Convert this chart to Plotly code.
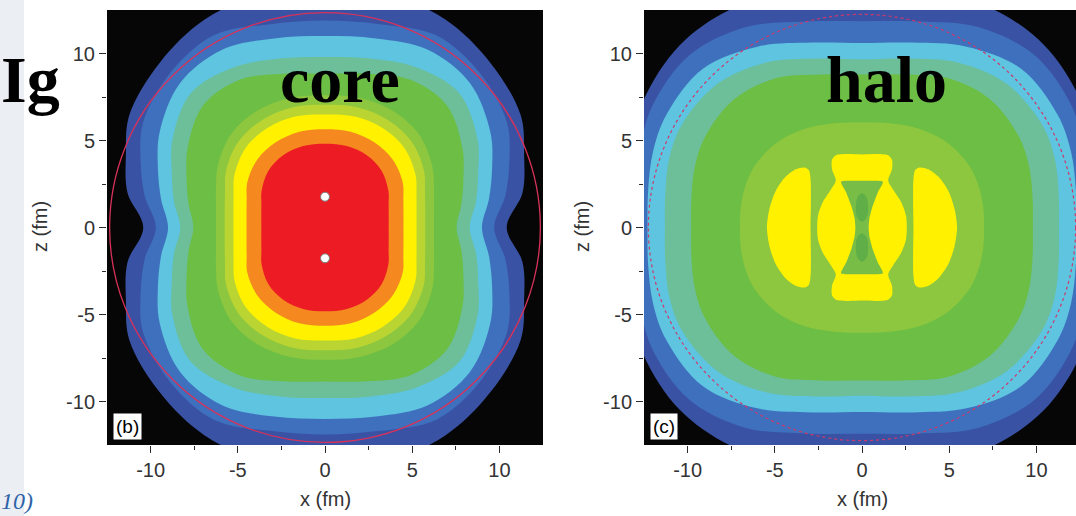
import math
import plotly.graph_objects as go

# ---------------- data ----------------
# angles (deg, first quadrant) at which every contour boundary radius was read
ANGLES = [0, 10, 20, 30, 45, 60, 75, 90]

# panel (b) "core": outer boundary radius (fm) of each filled level, outermost first
CORE_DARKBLUE = [10.42, 11.5, 12.15, 12.95, 13.4, 13.8, 13.9, 13.9]
CORE_BLUE     = [9.7, 10.5, 11.25, 12.05, 12.55, 12.75, 12.1, 11.9]
CORE_CYAN     = [9.0, 9.55, 10.2, 10.95, 11.75, 11.8, 11.25, 11.0]
CORE_TEAL     = [8.3, 8.8, 9.35, 10.1, 10.9, 10.6, 10.05, 9.8]
CORE_GREEN    = [7.55, 7.95, 8.45, 9.1, 9.9, 9.8, 9.15, 8.85]
CORE_LTGREEN  = [6.25, 6.35, 6.65, 7.1, 7.6, 7.75, 7.7, 7.6]
CORE_YLGREEN  = [5.75, 5.84, 6.1, 6.55, 7.0, 7.15, 7.15, 7.05]
CORE_YELLOW   = [5.25, 5.33, 5.58, 6.0, 6.45, 6.6, 6.6, 6.5]
CORE_ORANGE   = [4.5, 4.57, 4.78, 5.15, 5.5, 5.65, 5.7, 5.65]
CORE_RED      = [3.65, 3.71, 3.88, 4.2, 4.6, 4.8, 4.85, 4.82]
CORE_DOT_X = [0.0, 0.0]
CORE_DOT_Z = [1.77, -1.77]
CORE_CIRCLE_R = 12.35

# panel (c) "halo"
HALO_DARKBLUE = [13.3, 13.5, 14.0, 14.5, 14.8, 14.6, 14.0, 13.6]
HALO_BLUE     = [12.9, 13.1, 13.5, 13.9, 14.0, 13.3, 12.25, 11.85]
HALO_CYAN     = [12.3, 12.45, 12.75, 12.95, 12.9, 12.0, 11.0, 10.6]
HALO_TEAL     = [11.3, 11.45, 11.75, 11.9, 11.7, 10.95, 10.05, 9.67]
HALO_GREEN    = [9.8, 9.93, 10.2, 10.4, 10.4, 9.9, 9.1, 8.8]
HALO_LTGREEN  = [7.0, 7.05, 7.1, 7.1, 6.9, 6.55, 6.2, 6.05]
# right crescent, upper half: inner edge up, over the top, down the outer edge
HALO_CRESCENT_X = [2.95, 2.93, 2.95, 3.05, 3.3, 3.8, 4.4, 4.95, 5.3, 5.45]
HALO_CRESCENT_Z = [0.0, 1.5, 2.8, 3.3, 3.45, 3.35, 2.9, 2.1, 1.1, 0.0]
# central yellow blob, first quadrant from top to equator
HALO_BLOB_X = [0.0, 0.9, 1.5, 1.72, 1.72, 1.5, 1.8, 2.25, 2.52, 2.57]
HALO_BLOB_Z = [4.2, 4.22, 4.15, 3.9, 3.35, 2.7, 2.15, 1.45, 0.7, 0.0]
# hourglass inside the blob, first quadrant from top to equator
HALO_NECK_X = [0.0, 1.2, 0.9, 0.6, 0.42, 0.38]
HALO_NECK_Z = [2.68, 2.63, 2.0, 1.2, 0.5, 0.0]
# upper dark spot, right half from top to bottom
HALO_SPOT_X = [0.0, 0.25, 0.35, 0.28, 0.0]
HALO_SPOT_Z = [1.97, 1.75, 1.2, 0.6, 0.33]
HALO_CIRCLE_R = 12.25

TICKS = [-10, -5, 0, 5, 10]
TICK_TEXT = ["-10", "-5", "0", "5", "10"]
MINOR_TICKS = [-7.5, -2.5, 2.5, 7.5]

# ---------------- styles ----------------
C_DARKBLUE = "#3a52a4"
C_BLUE = "#3f70bd"
C_CYAN = "#5ec4e0"
C_TEAL = "#6cbf98"
C_GREEN = "#6dbe45"
C_LTGREEN = "#8dc63f"
C_YLGREEN = "#bad532"
C_YELLOW = "#fff100"
C_ORANGE = "#f5891f"
C_RED = "#ed1c24"
C_NECK = "#78bd45"
C_SPOT = "#5fae47"

W, H = 1076, 516


def quad_to_closed(xq, zq):
    """first-quadrant curve (top -> equator) mirrored into a closed outline"""
    q1 = list(zip(xq, zq))
    q4 = [(x, -z) for x, z in reversed(q1[:-1])]
    q3 = [(-x, -z) for x, z in q1[1:]]
    q2 = [(-x, z) for x, z in reversed(q1[1:-1])]
    pts = q1 + q4 + q3 + q2 + [q1[0]]
    return [p[0] for p in pts], [p[1] for p in pts]


def radial_quadrant(radii):
    xs = [r * math.cos(math.radians(a)) for a, r in zip(ANGLES, radii)]
    zs = [r * math.sin(math.radians(a)) for a, r in zip(ANGLES, radii)]
    xs[-1] = 0.0
    zs[0] = 0.0
    return xs[::-1], zs[::-1]


fig = go.Figure()


def add_fill(xs, zs, color, ax, smoothing=1.0):
    fig.add_trace(go.Scatter(
        x=xs, y=zs, mode="lines", fill="toself", fillcolor=color,
        line=dict(width=0, shape="spline", smoothing=smoothing, color=color),
        hoverinfo="skip", showlegend=False,
        xaxis="x" if ax == 1 else "x2", yaxis="y" if ax == 1 else "y2"))


core_levels = [(CORE_DARKBLUE, C_DARKBLUE), (CORE_BLUE, C_BLUE), (CORE_CYAN, C_CYAN),
               (CORE_TEAL, C_TEAL), (CORE_GREEN, C_GREEN), (CORE_LTGREEN, C_LTGREEN),
               (CORE_YLGREEN, C_YLGREEN), (CORE_YELLOW, C_YELLOW), (CORE_ORANGE, C_ORANGE),
               (CORE_RED, C_RED)]
for radii, col in core_levels:
    xq, zq = radial_quadrant(radii)
    xs, zs = quad_to_closed(xq, zq)
    add_fill(xs, zs, col, 1)

fig.add_trace(go.Scatter(x=CORE_DOT_X, y=CORE_DOT_Z, mode="markers",
                         marker=dict(size=9, color="white", line=dict(color="#777", width=1)),
                         hoverinfo="skip", showlegend=False, xaxis="x", yaxis="y"))

halo_levels = [(HALO_DARKBLUE, C_DARKBLUE), (HALO_BLUE, C_BLUE), (HALO_CYAN, C_CYAN),
               (HALO_TEAL, C_TEAL), (HALO_GREEN, C_GREEN), (HALO_LTGREEN, C_LTGREEN)]
for radii, col in halo_levels:
    xq, zq = radial_quadrant(radii)
    xs, zs = quad_to_closed(xq, zq)
    add_fill(xs, zs, col, 2)

# crescents
upper = list(zip(HALO_CRESCENT_X, HALO_CRESCENT_Z))
lower = [(x, -z) for x, z in reversed(upper[1:-1])]
cres = upper + lower + [upper[0]]
for sgn in (1, -1):
    add_fill([sgn * p[0] for p in cres], [p[1] for p in cres], C_YELLOW, 2, 0.8)

# central blob, hourglass, spots
bx, bz = quad_to_closed(HALO_BLOB_X, HALO_BLOB_Z)
add_fill(bx, bz, C_YELLOW, 2, 0.8)
nx, nz = quad_to_closed(HALO_NECK_X, HALO_NECK_Z)
add_fill(nx, nz, C_NECK, 2, 0.6)
spot = list(zip(HALO_SPOT_X, HALO_SPOT_Z)) + [(-x, z) for x, z in reversed(list(zip(HALO_SPOT_X, HALO_SPOT_Z))[1:-1])]
spot = spot + [spot[0]]
for sgn in (1, -1):
    add_fill([p[0] for p in spot], [sgn * p[1] for p in spot], C_SPOT, 2, 1.0)

# background strip and circles
shapes = [
    dict(type="rect", xref="paper", yref="paper", x0=0, x1=24 / W, y0=0, y1=1,
         fillcolor="#ebeef3", line=dict(width=0), layer="below"),
    dict(type="circle", xref="x", yref="y", x0=-CORE_CIRCLE_R, x1=CORE_CIRCLE_R,
         y0=-CORE_CIRCLE_R, y1=CORE_CIRCLE_R, line=dict(color="#d8325a", width=1.3)),
    dict(type="circle", xref="x2", yref="y2", x0=-HALO_CIRCLE_R, x1=HALO_CIRCLE_R,
         y0=-HALO_CIRCLE_R, y1=HALO_CIRCLE_R, line=dict(color="#cc3a6c", width=1.2, dash="dot")),
]

axstyle = dict(tickvals=TICKS, ticktext=TICK_TEXT, ticks="outside", ticklen=7, tickwidth=1,
               tickcolor="#2b2b2b", showgrid=False, zeroline=False, showline=False,
               minor=dict(tickvals=MINOR_TICKS, ticks="outside", ticklen=4, tickcolor="#2b2b2b"),
               tickfont=dict(family="Liberation Sans, Arial, sans-serif", size=20, color="#333333"),
               fixedrange=True)
ydom = [71 / H, 506 / H]

axis_font = dict(family="Liberation Sans, Arial, sans-serif", size=20, color="#333333")
big_font = dict(family="Liberation Serif, Times New Roman, serif", size=66, color="black")

annotations = [
    dict(text="<b>core</b>", x=340 / W, y=1 - 79 / H, xref="paper", yref="paper",
         showarrow=False, font=big_font, xanchor="center", yanchor="middle"),
    dict(text="<b>halo</b>", x=886 / W, y=1 - 79 / H, xref="paper", yref="paper",
         showarrow=False, font=big_font, xanchor="center", yanchor="middle"),
    dict(text="<b>Ig</b>", x=-1 / W, y=1 - 79 / H, xref="paper", yref="paper",
         showarrow=False, font=big_font, xanchor="left", yanchor="middle"),
    dict(text="<i>10)</i>", x=-1 / W, y=0, xref="paper", yref="paper",
         showarrow=False, font=dict(family="Liberation Serif, serif", size=24, color="#2f63a8"),
         xanchor="left", yanchor="bottom"),
    dict(text="(b)", x=0.014, y=0.012, xref="x domain", yref="y domain", showarrow=False,
         font=dict(family="Liberation Sans, Arial", size=19, color="black"), bgcolor="white",
         borderpad=2, xanchor="left", yanchor="bottom"),
    dict(text="(c)", x=0.014, y=0.012, xref="x2 domain", yref="y2 domain", showarrow=False,
         font=dict(family="Liberation Sans, Arial", size=19, color="black"), bgcolor="white",
         borderpad=2, xanchor="left", yanchor="bottom"),
    dict(text="z (fm)", x=40 / W, y=1 - 227 / H, xref="paper", yref="paper", showarrow=False,
         textangle=-90, font=axis_font, xanchor="center", yanchor="middle"),
    dict(text="z (fm)", x=582 / W, y=1 - 227 / H, xref="paper", yref="paper", showarrow=False,
         textangle=-90, font=axis_font, xanchor="center", yanchor="middle"),
    dict(text="x (fm)", x=325 / W, y=1 - 499 / H, xref="paper", yref="paper", showarrow=False,
         font=axis_font, xanchor="center", yanchor="middle"),
    dict(text="x (fm)", x=862 / W, y=1 - 499 / H, xref="paper", yref="paper", showarrow=False,
         font=axis_font, xanchor="center", yanchor="middle"),
]

fig.update_layout(
    width=W, height=H, margin=dict(l=0, r=0, t=0, b=0),
    paper_bgcolor="white", plot_bgcolor="#060606", showlegend=False,
    xaxis=dict(domain=[107 / W, 543 / W], range=[-12.5, 12.5], anchor="y", **axstyle),
    yaxis=dict(domain=ydom, range=[-12.5, 12.5], anchor="x", **axstyle),
    xaxis2=dict(domain=[644 / W, 1.0], range=[-12.5, 12.27], anchor="y2", **axstyle),
    yaxis2=dict(domain=ydom, range=[-12.5, 12.5], anchor="x2", **axstyle),
    shapes=shapes, annotations=annotations,
)

fig.write_html("out.html", config={"displayModeBar": False},
               post_script="document.body.style.margin='0';document.body.style.overflow='hidden';")
